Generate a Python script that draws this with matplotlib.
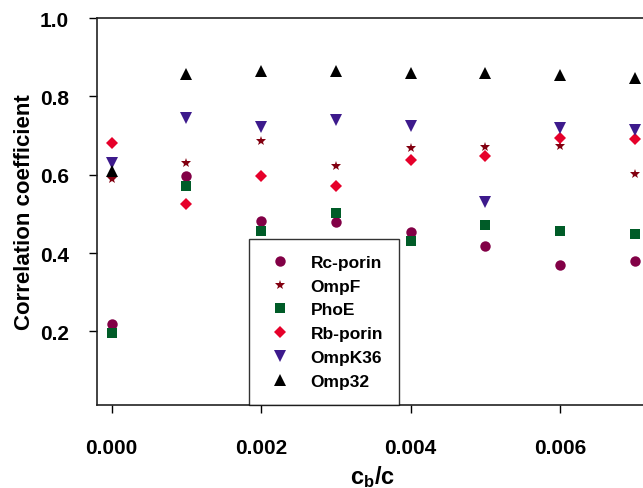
import matplotlib
matplotlib.use("Agg")
import matplotlib.pyplot as plt

plt.rcParams['font.family'] = ['Liberation Sans', 'DejaVu Sans']
plt.rcParams['font.weight'] = 'bold'
plt.rcParams['mathtext.fontset'] = 'custom'
plt.rcParams['mathtext.bf'] = 'Liberation Sans:bold'
plt.rcParams['mathtext.rm'] = 'Liberation Sans:bold'

cb_c = [0.000, 0.001, 0.002, 0.003, 0.004, 0.005, 0.006, 0.007]

rc_porin = [0.218, 0.597, 0.483, 0.480, 0.454, 0.417, 0.370, 0.379]
ompf = [0.589, 0.631, 0.685, 0.623, 0.669, 0.671, 0.672, 0.603]
phoe = [0.197, 0.570, 0.457, 0.502, 0.430, 0.471, 0.455, 0.448]
rb_porin = [0.681, 0.526, 0.597, 0.571, 0.637, 0.647, 0.694, 0.691]
ompk36 = [0.630, 0.744, 0.721, 0.739, 0.725, 0.529, 0.718, 0.714]
omp32 = [0.610, 0.857, 0.864, 0.864, 0.860, 0.860, 0.854, 0.847]

xticks = [0.000, 0.002, 0.004, 0.006]
yticks = [0.2, 0.4, 0.6, 0.8, 1.0]

fig = plt.figure(figsize=(6.43, 4.89), dpi=100)
# axes runs past the right edge, the original figure is cropped there
ax = fig.add_axes([96.7/643, 1-406/489, 568/643, 387/489])

ax.plot(cb_c, rc_porin, 'o', color='#820046', ms=7.5, mew=0, label='Rc-porin')
ax.plot(cb_c, ompf, '*', color='#820010', ms=7.5, mew=0, label='OmpF')
ax.plot(cb_c, phoe, 's', color='#005C28', ms=6.5, mew=0, label='PhoE')
ax.plot(cb_c, rb_porin, 'D', color='#E6002A', ms=6.2, mew=0, label='Rb-porin')
ax.plot(cb_c, ompk36, 'v', color='#3D1A8C', ms=8, mew=0, label='OmpK36')
ax.plot(cb_c, omp32, '^', color='black', ms=8, mew=0, label='Omp32')

ax.set_xlim(-0.0002, 0.0074)
ax.set_ylim(0.012, 1.0)
ax.set_xticks(xticks)
ax.set_xticklabels(['%.3f' % v for v in xticks])
ax.set_yticks(yticks)
ax.set_yticklabels(['%.1f' % v for v in yticks])
ax.tick_params(direction='out', length=6, width=1, labelsize=15)
ax.tick_params(axis='x', pad=18)
ax.tick_params(axis='y', pad=14)
ax.spines['right'].set_visible(False)
for s in ['left', 'bottom', 'top']:
    ax.spines[s].set_linewidth(1.2)
    ax.spines[s].set_color('#222222')

leg = ax.legend(loc='upper left', bbox_to_anchor=(248.7/643, 1-240/489),
                bbox_transform=fig.transFigure, frameon=True, fancybox=False,
                edgecolor='black', fontsize=12.5, handletextpad=0.9,
                borderpad=0.9, labelspacing=0.5, handlelength=1.77,
                borderaxespad=0)
leg.get_frame().set_linewidth(1.0)
for t in leg.get_texts():
    t.set_fontweight('bold')

fig.text(25/643, 1-212/489, 'Correlation coefficient', rotation=90,
         ha='center', va='center', fontsize=16, fontweight='bold')
fig.text(373/643, 1-477/489, r'$\mathbf{c_b/c}$', ha='center', va='center',
         fontsize=17)

fig.savefig('out.png', dpi=100)
